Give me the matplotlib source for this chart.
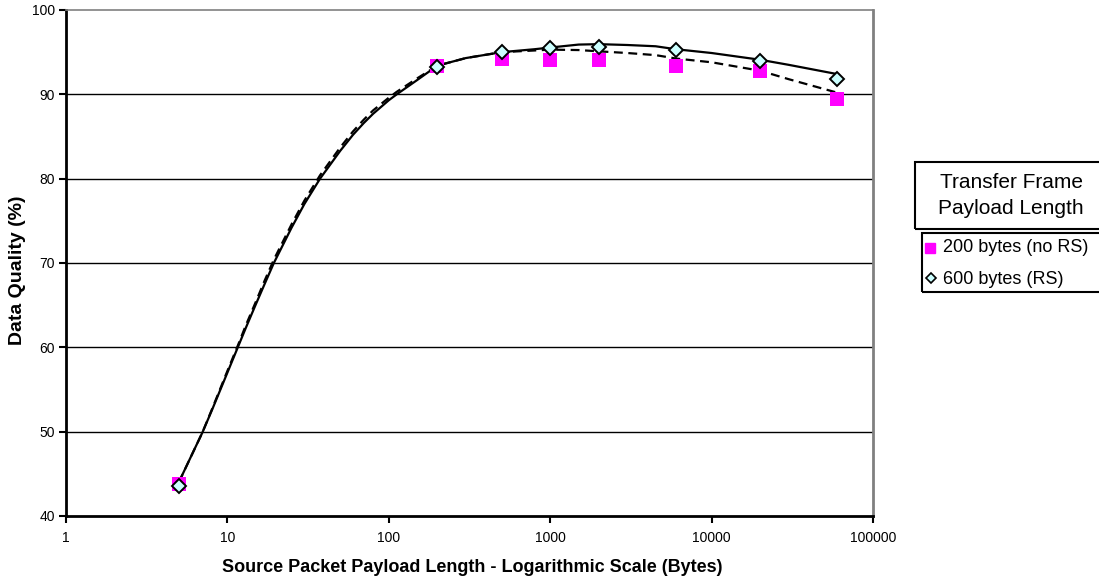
import matplotlib
matplotlib.use("Agg")
import matplotlib.pyplot as plt
from matplotlib.patches import Rectangle
from matplotlib.lines import Line2D

plt.rcParams['font.family'] = ['Liberation Sans', 'DejaVu Sans']

# ---- data ----
packet_len = [5, 200, 500, 1000, 2000, 6000, 20000, 60000]
quality_200_noRS = [43.8, 93.4, 94.2, 94.1, 94.1, 93.4, 92.8, 89.4]
quality_600_RS = [43.6, 93.3, 95.0, 95.5, 95.6, 95.2, 94.0, 91.8]

# trend curves
trend_x_low = [5, 6, 7, 8, 10, 11.6, 13, 15, 17, 19.4, 25, 30, 37.5, 50, 60, 70, 80, 100, 112, 150, 200]
trend_y_low_600 = [44.0, 47.2, 49.9, 52.5, 57.0, 60.0, 62.3, 65.1, 67.5, 70.0, 74.2, 77.0, 80.0,
                   83.3, 85.2, 86.6, 87.7, 89.3, 90.0, 91.7, 93.4]
trend_y_low_200 = [44.0, 47.2, 49.9, 52.6, 57.2, 60.2, 62.6, 65.4, 67.9, 70.4, 74.6, 77.4, 80.4,
                   83.7, 85.6, 87.0, 88.1, 89.6, 90.3, 91.9, 93.4]
trend_x_high = [200, 300, 500, 800, 1000, 1500, 2000, 3000, 4500, 6000, 10000, 20000, 30000, 60000]
trend_y_high_600 = [93.4, 94.3, 95.0, 95.35, 95.55, 95.9, 95.95, 95.85, 95.7, 95.35, 94.9, 94.1, 93.5, 92.4]
trend_y_high_200 = [93.4, 94.3, 95.0, 95.2, 95.3, 95.25, 95.1, 94.9, 94.65, 94.25, 93.8, 92.8, 91.8, 90.2]

x_ticks = [1, 10, 100, 1000, 10000, 100000]
x_tick_labels = ["1", "10", "100", "1000", "10000", "100000"]
y_ticks = [40, 50, 60, 70, 80, 90, 100]

legend_title_lines = ["Transfer Frame", "Payload Length"]
series_labels = ["200 bytes (no RS)", "600 bytes (RS)"]

W, H = 1099, 582
fig = plt.figure(figsize=(W / 100, H / 100), dpi=100)
ax = fig.add_axes([66 / W, 1 - 516 / H, (873 - 66) / W, (516 - 10) / H])

ax.set_xscale('log')
ax.set_xlim(1, 100000)
ax.set_ylim(40, 100)

for g in y_ticks[1:-1]:
    ax.axhline(g, color='black', lw=1.0, zorder=1)

# trend lines
ax.plot(trend_x_low + trend_x_high[1:], trend_y_low_200 + trend_y_high_200[1:], color='black',
        lw=1.6, ls=(0, (4, 2.5)), zorder=3)
ax.plot(trend_x_low + trend_x_high[1:], trend_y_low_600 + trend_y_high_600[1:], color='black',
        lw=1.6, ls='-', zorder=3)

# markers
ax.plot(packet_len, quality_200_noRS, ls='none', marker='s', ms=9.5,
        mfc='#FF00FF', mec='#FF00FF', mew=0, zorder=4)
ax.plot(packet_len, quality_600_RS, ls='none', marker='D', ms=7.6,
        mfc='#CCFFFF', mec='black', mew=1.4, zorder=5)

ax.set_xticks(x_ticks)
ax.set_xticklabels(x_tick_labels)
ax.xaxis.set_minor_locator(matplotlib.ticker.NullLocator())
ax.set_yticks(y_ticks)
ax.tick_params(axis='both', direction='out', length=5, width=1.5, labelsize=10,
               color='black', pad=3)
ax.tick_params(axis='x', pad=6)

for s in ['left', 'bottom']:
    ax.spines[s].set_linewidth(2.0)
    ax.spines[s].set_color('black')
ax.spines['top'].set_color('#808080')
ax.spines['top'].set_linewidth(1.2)
ax.spines['right'].set_color('#808080')
ax.spines['right'].set_linewidth(2.0)

ax.set_xlabel("Source Packet Payload Length - Logarithmic Scale (Bytes)",
              fontsize=13, fontweight='bold')
ax.xaxis.set_label_coords(472 / W, 1 - 568 / H, transform=fig.transFigure)
ax.set_ylabel("Data Quality (%)", fontsize=14, fontweight='bold')
ax.yaxis.set_label_coords(18 / W, 1 - 270 / H, transform=fig.transFigure)
ax.yaxis.label.set_va('center')
ax.xaxis.label.set_va('center')

# legend title box
fig.patches.append(Rectangle((915 / W, 1 - 229 / H), 200 / W, 67 / H,
                             transform=fig.transFigure, fill=False,
                             edgecolor='black', lw=1.5))
fig.text(1011 / W, 1 - 182 / H, legend_title_lines[0], ha='center', va='center', fontsize=15)
fig.text(1011 / W, 1 - 208 / H, legend_title_lines[1], ha='center', va='center', fontsize=15)

# legend entries box
fig.patches.append(Rectangle((922 / W, 1 - 292 / H), 200 / W, 59 / H,
                             transform=fig.transFigure, fill=False,
                             edgecolor='black', lw=1.5))
fig.lines.append(Line2D([930 / W], [1 - 248 / H], transform=fig.transFigure,
                        marker='s', ms=7, mfc='#FF00FF', mec='#FF00FF', ls='none'))
fig.lines.append(Line2D([931 / W], [1 - 278 / H], transform=fig.transFigure,
                        marker='D', ms=5.5, mfc='#CCFFFF', mec='black', mew=1.2, ls='none'))
fig.text(943 / W, 1 - 248 / H, series_labels[0], ha='left', va='center', fontsize=13)
fig.text(943 / W, 1 - 279 / H, series_labels[1], ha='left', va='center', fontsize=13)

fig.savefig("out.png", dpi=100)
